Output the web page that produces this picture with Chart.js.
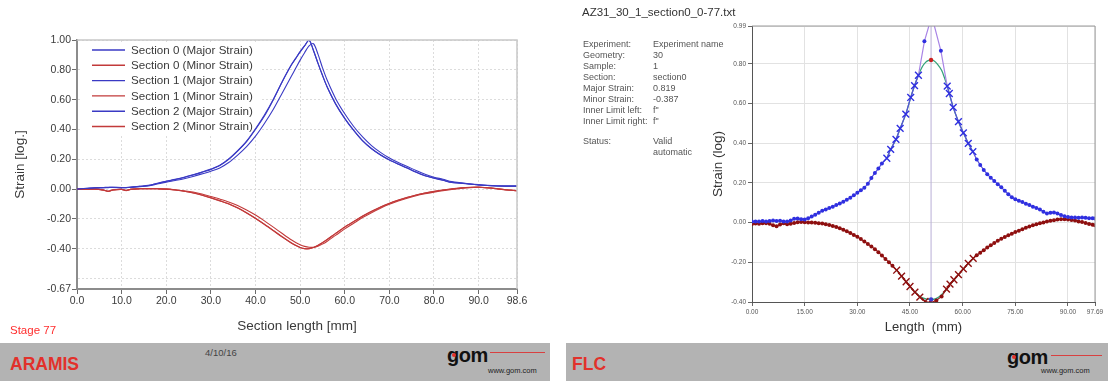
<!DOCTYPE html>
<html>
<head>
<meta charset="utf-8">
<script src="https://cdn.jsdelivr.net/npm/chart.js@4.4.1/dist/chart.umd.min.js"></script>
<style>
  html, body { margin: 0; padding: 0; background: #fff; }
  body { width: 1108px; height: 381px; overflow: hidden; position: relative;
         font-family: "Liberation Sans", Arial, sans-serif; }
  .box { position: absolute; }
  .t { position: absolute; white-space: nowrap; line-height: 1; }
  .bar { position: absolute; top: 343px; height: 38px; background: #b3b3b3; }
  .brand { position: absolute; top: 354px; font-weight: bold; font-size: 17.5px; color: #e2312b; }
  .gom { position: absolute; font-weight: bold; font-size: 20px; color: #111; letter-spacing: -0.5px; }
  .gomdot { position: absolute; width: 4px; height: 4px; border-radius: 50%; background: #e2312b; }
  .gomline { position: absolute; height: 1px; background: #d84040; }
  .gomurl { position: absolute; font-size: 7.5px; color: #222; }
  .info { position: absolute; font-size: 9px; color: #555; }
</style>
</head>
<body>

<!-- ARAMIS section view -->
<div class="box" style="left:0;top:0;width:560px;height:340px;"><canvas id="aramis" width="560" height="340"></canvas></div>
<div class="t" style="left:10px;top:325px;font-size:11.5px;color:#ff2d2d;">Stage 77</div>
<div class="bar" style="left:0;width:550px;"></div>
<div class="brand" style="left:10px;">ARAMIS</div>
<div class="t" style="left:205px;top:348px;font-size:9.5px;color:#444;">4/10/16</div>
<div class="gom" style="left:447px;top:344px;">gom</div>
<div class="gomdot" style="left:452px;top:353px;"></div>
<div class="gomline" style="left:490px;top:352px;width:55px;"></div>
<div class="gomurl" style="left:488px;top:366px;">www.gom.com</div>

<!-- FLC evaluation view -->
<div class="box" style="left:700px;top:0;width:408px;height:340px;"><canvas id="flc" width="408" height="340"></canvas></div>
<div class="t" style="left:582px;top:7px;font-size:11.5px;color:#333;">AZ31_30_1_section0_0-77.txt</div>
<div id="infoBlock"></div>
<div class="bar" style="left:566px;width:542px;"></div>
<div class="brand" style="left:572px;">FLC</div>
<div class="gom" style="left:1007px;top:346px;">gom</div>
<div class="gomdot" style="left:1012px;top:355px;"></div>
<div class="gomline" style="left:1051px;top:355px;width:51px;"></div>
<div class="gomurl" style="left:1041px;top:366px;">www.gom.com</div>

<script>
// ---------- ARAMIS: strain along the section ----------
const sectionLength = [0, 2, 4, 6, 7, 8, 10, 11, 12, 14,
  16, 18, 20, 22, 24, 26, 28, 30, 32, 34,
  36, 38, 40, 42, 44, 46, 48, 49, 50, 51,
  52, 53, 54, 55, 56, 58, 60, 62, 64, 66,
  68, 70, 72, 74, 76, 78, 80, 82, 84, 86,
  88, 90, 92, 94, 96, 98.6];

const section0Major = [0.000, 0.004, 0.008, 0.010, 0.011, 0.012, 0.010, 0.010, 0.012, 0.018,
  0.024, 0.038, 0.052, 0.064, 0.078, 0.095, 0.113, 0.132, 0.158, 0.200,
  0.255, 0.318, 0.400, 0.490, 0.600, 0.720, 0.830, 0.875, 0.920, 0.960,
  1.000, 0.930, 0.845, 0.765, 0.690, 0.570, 0.475, 0.395, 0.325, 0.272,
  0.230, 0.196, 0.168, 0.142, 0.114, 0.090, 0.074, 0.060, 0.045, 0.040,
  0.034, 0.028, 0.024, 0.021, 0.020, 0.020];
const section0Minor = [0.000, -0.003, 0.000, -0.008, -0.016, -0.006, -0.002, -0.010, -0.002, 0.002,
  0.003, 0.002, 0.000, -0.006, -0.014, -0.025, -0.040, -0.058, -0.077, -0.098,
  -0.125, -0.158, -0.195, -0.235, -0.277, -0.320, -0.360, -0.377, -0.391, -0.399,
  -0.400, -0.392, -0.378, -0.360, -0.340, -0.297, -0.255, -0.218, -0.182, -0.150,
  -0.121, -0.096, -0.075, -0.056, -0.040, -0.027, -0.016, -0.007, 0.001, 0.007,
  0.011, 0.012, 0.008, 0.002, -0.005, -0.012];
const section1Major = [0.000, 0.003, 0.007, 0.009, 0.010, 0.011, 0.009, 0.010, 0.011, 0.016,
  0.021, 0.034, 0.047, 0.058, 0.070, 0.085, 0.102, 0.120, 0.142, 0.178,
  0.228, 0.285, 0.355, 0.440, 0.535, 0.645, 0.755, 0.810, 0.865, 0.915,
  0.960, 0.975, 0.905, 0.815, 0.735, 0.605, 0.505, 0.420, 0.350, 0.292,
  0.246, 0.208, 0.178, 0.152, 0.124, 0.099, 0.080, 0.066, 0.050, 0.042,
  0.036, 0.030, 0.025, 0.022, 0.021, 0.021];
const section1Minor = [0.000, -0.002, 0.001, -0.006, -0.013, -0.005, -0.001, -0.008, -0.001, 0.002,
  0.003, 0.002, 0.000, -0.004, -0.011, -0.020, -0.033, -0.050, -0.067, -0.086,
  -0.110, -0.140, -0.174, -0.213, -0.255, -0.298, -0.340, -0.358, -0.373, -0.384,
  -0.390, -0.390, -0.383, -0.369, -0.351, -0.309, -0.267, -0.229, -0.191, -0.158,
  -0.128, -0.102, -0.080, -0.061, -0.044, -0.031, -0.020, -0.010, -0.002, 0.005,
  0.010, 0.012, 0.009, 0.003, -0.004, -0.010];
const section2Major = [0.000, 0.005, 0.009, 0.011, 0.012, 0.012, 0.011, 0.011, 0.013, 0.019,
  0.025, 0.039, 0.053, 0.065, 0.079, 0.096, 0.114, 0.134, 0.160, 0.203,
  0.258, 0.322, 0.405, 0.497, 0.603, 0.722, 0.832, 0.877, 0.922, 0.962,
  0.998, 0.928, 0.843, 0.763, 0.688, 0.568, 0.473, 0.393, 0.323, 0.270,
  0.229, 0.195, 0.167, 0.141, 0.113, 0.089, 0.073, 0.059, 0.044, 0.039,
  0.033, 0.028, 0.024, 0.021, 0.020, 0.020];
const section2Minor = [0.000, -0.003, 0.000, -0.007, -0.015, -0.006, -0.002, -0.009, -0.002, 0.002,
  0.003, 0.002, 0.000, -0.006, -0.014, -0.026, -0.041, -0.059, -0.079, -0.100,
  -0.127, -0.160, -0.197, -0.237, -0.279, -0.322, -0.361, -0.378, -0.392, -0.399,
  -0.399, -0.391, -0.377, -0.359, -0.339, -0.296, -0.254, -0.217, -0.181, -0.149,
  -0.120, -0.095, -0.074, -0.055, -0.039, -0.026, -0.015, -0.006, 0.002, 0.008,
  0.012, 0.013, 0.009, 0.003, -0.004, -0.011];

const aramisXTicks = [0, 10, 20, 30, 40, 50, 60, 70, 80, 90, 98.6];
const aramisYTicks = [-0.67, -0.6, -0.4, -0.2, 0, 0.2, 0.4, 0.6, 0.8, 1.0];
const aramisUnlabelled = [-0.6];

// ---------- FLC: section with inner limits and fitted curves ----------
const flcMajorLength = [0, 1, 2, 3, 4, 5, 6, 7, 8, 9,
  10, 11, 12, 13, 14, 15, 16, 17, 18, 19,
  20, 21, 22, 23, 24, 25, 26, 27, 28, 29,
  30, 31, 32, 33, 34, 35, 36, 37,
  38.4, 39.5, 41.0, 42.2, 43.8, 45.2, 46.3, 47.4,
  49.1, 51.2, 53.8,
  55.6, 56.2, 57.3, 58.8, 60.2, 61.6, 62.9,
  64, 65, 66, 67, 68, 69, 70, 71, 72, 73,
  74, 75, 76, 77, 78, 79, 80, 81, 82, 83,
  84, 85, 86, 87, 88, 89, 90, 91, 92, 93,
  94, 95, 96, 97, 97.69];
const flcMajor = [0.005, 0.006, 0.005, 0.008, 0.006, 0.008, 0.010, 0.008, 0.009, 0.006,
  0.005, 0.010, 0.019, 0.021, 0.017, 0.015, 0.022, 0.030, 0.040, 0.050,
  0.060, 0.066, 0.073, 0.080, 0.088, 0.096, 0.105, 0.115, 0.125, 0.137,
  0.150, 0.163, 0.176, 0.195, 0.225, 0.250, 0.272, 0.298,
  0.324, 0.369, 0.419, 0.474, 0.546, 0.630, 0.690, 0.742,
  0.913, 1.040, 0.865,
  0.687, 0.650, 0.580, 0.508, 0.452, 0.399, 0.357,
  0.318, 0.290, 0.265, 0.244, 0.226, 0.210, 0.193, 0.178, 0.160, 0.143,
  0.128, 0.117, 0.110, 0.103, 0.095, 0.088, 0.080, 0.074, 0.066, 0.055,
  0.046, 0.050, 0.051, 0.046, 0.038, 0.032, 0.028, 0.026, 0.025, 0.024,
  0.025, 0.024, 0.022, 0.022, 0.021];

const flcMinorLength = [0, 1, 2, 3, 4, 5, 6, 7, 8, 9,
  10, 11, 12, 13, 14, 15, 16, 17, 18, 19,
  20, 21, 22, 23, 24, 25, 26, 27, 28, 29,
  30, 31, 32, 33, 34, 35, 36, 37, 38, 39,
  40,
  41.2, 42.6, 43.9, 45.0, 46.4, 47.8, 49.3, 50.8, 52.5, 54.0,
  55.4, 56.4, 57.5, 58.8, 60.2, 61.6, 63.0,
  64, 65, 66, 67, 68, 69, 70, 71, 72, 73,
  74, 75, 76, 77, 78, 79, 80, 81, 82, 83,
  84, 85, 86, 87, 88, 89, 90, 91, 92, 93,
  94, 95, 96, 97, 97.69];
const flcMinor = [-0.007, -0.005, -0.006, -0.004, -0.003, -0.006, -0.014, -0.018, -0.010, -0.004,
  -0.008, -0.006, -0.002, 0.002, 0.003, 0.002, 0.001, 0.000, -0.001, -0.003,
  -0.005, -0.008, -0.012, -0.017, -0.022, -0.028, -0.036, -0.044, -0.053, -0.062,
  -0.072, -0.083, -0.095, -0.108, -0.120, -0.134, -0.149, -0.166, -0.183, -0.200,
  -0.218,
  -0.240, -0.270, -0.298, -0.322, -0.350, -0.375, -0.397, -0.404, -0.392, -0.372,
  -0.335, -0.310, -0.288, -0.262, -0.233, -0.205, -0.180,
  -0.165, -0.152, -0.139, -0.126, -0.114, -0.103, -0.092, -0.082, -0.073, -0.064,
  -0.056, -0.048, -0.041, -0.033, -0.026, -0.020, -0.014, -0.009, -0.004, 0.000,
  0.005, 0.009, 0.012, 0.015, 0.017, 0.017, 0.016, 0.013, 0.010, 0.006,
  0.003, -0.002, -0.007, -0.011, -0.013];

const majorFitLength = [38.4, 39.5, 41.0, 42.2, 43.8, 45.2, 46.3, 47.4, 48.5, 49.5,
  50.3, 51.0, 51.8, 52.8, 54.0, 54.8, 55.6, 56.2, 57.3, 58.8, 60.2, 61.6, 62.9];
const majorFit = [0.324, 0.369, 0.419, 0.474, 0.546, 0.630, 0.690, 0.742, 0.785, 0.808,
  0.817, 0.819, 0.815, 0.798, 0.767, 0.730, 0.687, 0.650, 0.580, 0.508, 0.452, 0.399, 0.357];
const minorFitLength = [41.2, 42.6, 43.9, 45.0, 46.4, 47.8, 48.8, 49.8, 51.0, 52.2,
  53.2, 54.2, 55.4, 56.4, 57.5, 58.8, 60.2, 61.6, 63.0];
const minorFit = [-0.240, -0.270, -0.298, -0.322, -0.350, -0.372, -0.381, -0.386, -0.387, -0.384,
  -0.375, -0.360, -0.337, -0.313, -0.289, -0.262, -0.234, -0.206, -0.181];

// limit position and the strains read there
const limitLength = 51.0;
const limitMajor = 0.819;
const limitMinor = -0.387;

// fit windows (points inside are drawn as crosses)
const majorWindows = [[38.0, 47.5], [55.5, 63.0]];
const minorWindows = [[41.0, 49.5], [55.0, 63.2]];

const flcXTicks = [0, 15, 30, 45, 60, 75, 90, 97.69];
const flcYTicks = [-0.40, -0.20, 0, 0.20, 0.40, 0.60, 0.80, 0.99];

const infoLabels = ['Experiment:', 'Geometry:', 'Sample:', 'Section:', 'Major Strain:', 'Minor Strain:',
  'Inner Limit left:', 'Inner Limit right:', '', 'Status:', ''];
const infoValues = ['Experiment name', '30', '1', 'section0', limitMajor.toFixed(3), limitMinor.toFixed(3),
  'f"', 'f"', '', 'Valid', 'automatic'];

// ---------- helpers ----------
const FONT = '"Liberation Sans", Arial, sans-serif';
const pts = (xs, ys) => xs.map((x, i) => ({ x: x, y: ys[i] }));
const fixedTicks = list => scale => { scale.ticks = list.map(v => ({ value: v })); };
const inWindows = (x, wins) => wins.some(w => x >= w[0] && x <= w[1]);

Chart.defaults.font.family = FONT;

// ---------- ARAMIS chart ----------
const BLUE = '#3a3ac4';
const RED = '#c23a3a';

const aramisLegend = {
  id: 'aramisLegend',
  beforeDatasetsDraw(chart) {
    const { ctx, chartArea: a } = chart;
    ctx.save();
    ctx.fillStyle = '#fff';
    ctx.fillRect(a.left + 5, a.top + 2, 178, 94);
    ctx.font = '11.6px ' + FONT;
    ctx.textBaseline = 'middle';
    chart.data.datasets.forEach((ds, i) => {
      const y = a.top + 10 + i * 15.3;
      ctx.strokeStyle = ds.borderColor;
      ctx.lineWidth = 1.4;
      ctx.beginPath();
      ctx.moveTo(a.left + 15, y);
      ctx.lineTo(a.left + 48, y);
      ctx.stroke();
      ctx.fillStyle = '#3a3a3a';
      ctx.fillText(ds.label, a.left + 54, y + 0.5);
    });
    ctx.restore();
  }
};

const plotFrame = (color, width) => ({
  id: 'plotFrame',
  afterDatasetsDraw(chart) {
    const { ctx, chartArea: a } = chart;
    ctx.save();
    ctx.strokeStyle = color;
    ctx.lineWidth = width;
    ctx.beginPath();
    ctx.moveTo(a.left, a.top);
    ctx.lineTo(a.right, a.top);
    ctx.lineTo(a.right, a.bottom);
    ctx.stroke();
    ctx.restore();
  }
});

const lineSet = (label, ys, color) => ({
  label: label,
  data: pts(sectionLength, ys),
  borderColor: color,
  borderWidth: 1.1,
  pointRadius: 0,
  tension: 0.3,
  fill: false
});

new Chart(document.getElementById('aramis'), {
  type: 'line',
  data: {
    datasets: [
      lineSet('Section 0 (Major Strain)', section0Major, BLUE),
      lineSet('Section 0 (Minor Strain)', section0Minor, RED),
      lineSet('Section 1 (Major Strain)', section1Major, BLUE),
      lineSet('Section 1 (Minor Strain)', section1Minor, RED),
      lineSet('Section 2 (Major Strain)', section2Major, BLUE),
      lineSet('Section 2 (Minor Strain)', section2Minor, RED)
    ]
  },
  options: {
    responsive: false,
    animation: false,
    events: [],
    layout: { padding: { left: 0, top: 40, right: 43, bottom: 0 } },
    plugins: { legend: { display: false }, tooltip: { enabled: false } },
    scales: {
      x: {
        type: 'linear',
        min: 0, max: 98.6,
        afterBuildTicks: fixedTicks(aramisXTicks),
        afterFit: s => { s.height = 51; },
        ticks: {
          autoSkip: false, maxRotation: 0, padding: 1,
          color: '#3a3a3a', font: { size: 10.5 },
          callback: v => v.toFixed(1)
        },
        grid: { color: '#dcdcdc', lineWidth: 1, tickLength: 5, tickColor: '#6a6a6a' },
        border: { color: '#8c8c8c', width: 2, dash: [2, 2] },
        title: {
          display: true, text: 'Section length [mm]', color: '#3a3a3a',
          font: { size: 13.5 }, padding: { top: 0, bottom: 6 }
        }
      },
      y: {
        type: 'linear',
        min: -0.67, max: 1.0,
        afterBuildTicks: fixedTicks(aramisYTicks),
        afterFit: s => { s.width = 77; },
        ticks: {
          autoSkip: false, padding: 1,
          color: '#3a3a3a', font: { size: 10.5 },
          callback: v => aramisUnlabelled.includes(v) ? '' : v.toFixed(2)
        },
        grid: {
          color: '#dcdcdc', lineWidth: 1, tickLength: 5,
          tickColor: c => (c.tick && aramisUnlabelled.includes(c.tick.value)) ? 'rgba(0,0,0,0)' : '#6a6a6a'
        },
        border: { color: '#8c8c8c', width: 2, dash: [2, 2] },
        title: {
          display: true, text: 'Strain [log.]', color: '#3a3a3a',
          font: { size: 13.5 }, padding: { top: 12, bottom: 0 }
        }
      }
    }
  },
  plugins: [aramisLegend, plotFrame('#c8c8c8', 1.5)]
});

// ---------- FLC chart ----------
const MAJOR_DOT = '#2f2fe0';
const MAJOR_LINE = '#5a50da';
const PEAK_LINE = '#a884e6';
const MINOR_DOT = '#8e0f0f';
const MINOR_LINE = '#9c1c1c';
const FIT = '#35a27a';

const sectionSet = (label, xs, ys, wins, dot, line, order, segColor) => ({
  label: label,
  data: pts(xs, ys),
  showLine: true,
  borderColor: line,
  borderWidth: 1.2,
  backgroundColor: dot,
  pointBorderColor: dot,
  pointStyle: c => (c.raw && inWindows(c.raw.x, wins)) ? 'crossRot' : 'circle',
  pointRadius: c => (c.raw && inWindows(c.raw.x, wins)) ? 4.8 : 2.0,
  pointBorderWidth: c => (c.raw && inWindows(c.raw.x, wins)) ? 1.4 : 0,
  segment: segColor ? { borderColor: segColor } : undefined,
  order: order
});

new Chart(document.getElementById('flc'), {
  type: 'scatter',
  data: {
    datasets: [
      {
        label: 'limit',
        data: [{ x: limitLength, y: -0.40 }, { x: limitLength, y: 0.99 }],
        showLine: true, borderColor: '#b9aed6', borderWidth: 1, pointRadius: 0, order: 8
      },
      {
        label: 'Major fit', data: pts(majorFitLength, majorFit), showLine: true,
        borderColor: FIT, borderWidth: 1.3, pointRadius: 0, tension: 0.35, order: 7
      },
      {
        label: 'Minor fit', data: pts(minorFitLength, minorFit), showLine: true,
        borderColor: FIT, borderWidth: 1.3, pointRadius: 0, tension: 0.35, order: 7
      },
      sectionSet('Minor Strain', flcMinorLength, flcMinor, minorWindows, MINOR_DOT, MINOR_LINE, 5),
      sectionSet('Major Strain', flcMajorLength, flcMajor, majorWindows, MAJOR_DOT, MAJOR_LINE, 4,
        c => (c.p0.parsed.x >= 47 && c.p1.parsed.x <= 56) ? PEAK_LINE : MAJOR_LINE),
      {
        label: 'Limit strains',
        data: [{ x: limitLength, y: limitMajor }, { x: limitLength, y: limitMinor }],
        showLine: false, pointRadius: 2.2, pointBorderWidth: 0,
        backgroundColor: ['#cc2020', '#3a3ad0'], order: 1
      }
    ]
  },
  options: {
    responsive: false,
    animation: false,
    events: [],
    layout: { padding: { left: 0, top: 26, right: 13, bottom: 0 } },
    plugins: { legend: { display: false }, tooltip: { enabled: false } },
    scales: {
      x: {
        type: 'linear',
        min: 0, max: 97.69,
        afterBuildTicks: fixedTicks(flcXTicks),
        afterFit: s => { s.height = 38; },
        ticks: {
          autoSkip: false, maxRotation: 0, padding: 2,
          color: '#555', font: { size: 6.5 },
          callback: v => v.toFixed(2)
        },
        grid: { color: '#e2e2e2', lineWidth: 1, tickLength: 4, tickColor: '#666' },
        border: { color: '#555', width: 1 },
        title: {
          display: true, text: 'Length  (mm)', color: '#333',
          font: { size: 13 }, padding: { top: 0, bottom: 5 }
        }
      },
      y: {
        type: 'linear',
        min: -0.40, max: 0.99,
        afterBuildTicks: fixedTicks(flcYTicks),
        afterFit: s => { s.width = 52; },
        ticks: {
          autoSkip: false, padding: 2,
          color: '#555', font: { size: 6.5 },
          callback: v => v.toFixed(2)
        },
        grid: { color: '#e2e2e2', lineWidth: 1, tickLength: 4, tickColor: '#666' },
        border: { color: '#555', width: 1 },
        title: {
          display: true, text: 'Strain (log)', color: '#333',
          font: { size: 13.5 }, padding: { top: 10, bottom: 0 }
        }
      }
    }
  },
  plugins: [plotFrame('#9a9a9a', 1)]
});

// ---------- FLC info block ----------
const info = document.getElementById('infoBlock');
infoLabels.forEach((lab, i) => {
  const top = 40 + i * 11 - (i >= 9 ? 2 : 0);
  if (lab) {
    const d = document.createElement('div');
    d.className = 'info t'; d.style.left = '583px'; d.style.top = top + 'px'; d.textContent = lab;
    info.appendChild(d);
  }
  if (infoValues[i]) {
    const v = document.createElement('div');
    v.className = 'info t'; v.style.left = '653px'; v.style.top = top + 'px'; v.textContent = infoValues[i];
    info.appendChild(v);
  }
});
</script>
</body>
</html>
